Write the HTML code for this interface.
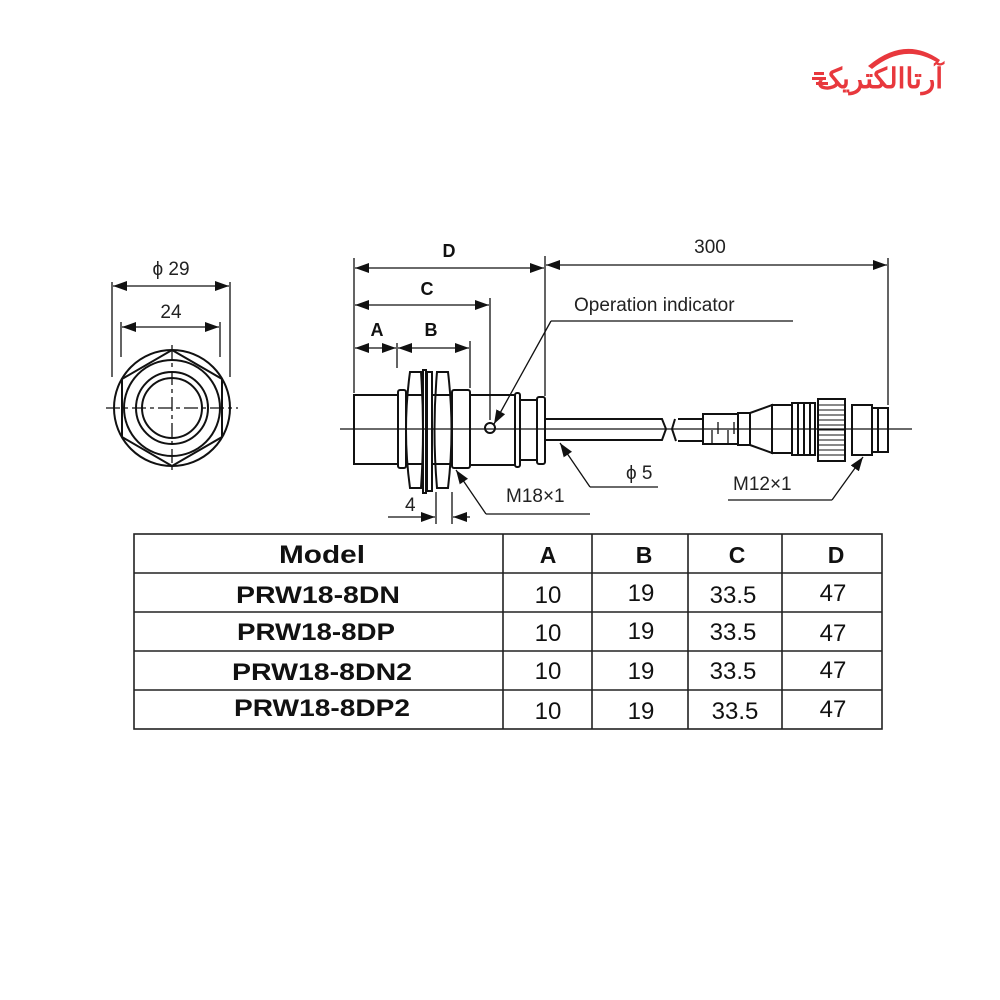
<!DOCTYPE html>
<html><head><meta charset="utf-8"><style>
html,body{margin:0;padding:0;background:#fff;width:1000px;height:1000px;overflow:hidden}
svg{display:block}
</style></head><body>
<svg width="1000" height="1000" viewBox="0 0 1000 1000" xmlns="http://www.w3.org/2000/svg" font-family="Liberation Sans, sans-serif">
<defs>
<marker id="ab" viewBox="0 0 14 10" refX="14" refY="5" markerWidth="14" markerHeight="10" orient="auto-start-reverse" markerUnits="userSpaceOnUse"><path d="M0,0 L14,5 L0,10 z" fill="#111"/></marker>
</defs>
<!-- logo -->
<g fill="#e8383d">
<path d="M868,66 Q905,35 940,60 L938,63 Q905,42 872,69 z"/>
<text x="880" y="88" font-size="28" font-weight="bold" font-family="Noto Sans CJK SC, sans-serif" text-anchor="middle">آرتاالکتریک</text>
<rect x="812" y="77" width="14" height="3"/><rect x="816" y="82" width="12" height="3"/><rect x="814" y="72" width="10" height="3"/>
</g>

<g stroke="#111" fill="none" stroke-width="2">
<!-- front view -->
<circle cx="172" cy="408" r="58"/>
<polygon points="172,350 222,379 222,437 172,466 122,437 122,379"/>
<circle cx="172" cy="408" r="48"/>
<circle cx="172" cy="408" r="36"/>
<circle cx="172" cy="408" r="30"/>
<line x1="106" y1="408" x2="238" y2="408" stroke-dasharray="14,4,4,4" stroke-width="1.3"/>
<line x1="172" y1="345" x2="172" y2="470" stroke-dasharray="14,4,4,4" stroke-width="1.3"/>
<!-- front dims -->
<line x1="112" y1="282" x2="112" y2="377" stroke-width="1.3"/>
<line x1="230" y1="282" x2="230" y2="377" stroke-width="1.3"/>
<line x1="113" y1="286" x2="229" y2="286" stroke-width="1.3" marker-start="url(#ab)" marker-end="url(#ab)"/>
<line x1="121" y1="322" x2="121" y2="357" stroke-width="1.3"/>
<line x1="220" y1="322" x2="220" y2="357" stroke-width="1.3"/>
<line x1="122" y1="327" x2="219" y2="327" stroke-width="1.3" marker-start="url(#ab)" marker-end="url(#ab)"/>

<!-- side view -->
<rect x="354" y="395" width="44" height="69"/>
<rect x="398" y="390" width="8" height="78" rx="2"/>
<path d="M410,372 L421,372 Q425,430 421,488 L410,488 Q402,430 410,372 z"/>
<line x1="406" y1="395" x2="423" y2="395"/><line x1="406" y1="464" x2="423" y2="464"/>
<rect x="423" y="370" width="3" height="123"/>
<rect x="427" y="372" width="5" height="119"/>
<path d="M437,372 L448,372 Q455,430 448,488 L437,488 Q432,430 437,372 z"/>
<line x1="433" y1="395" x2="452" y2="395"/><line x1="433" y1="464" x2="452" y2="464"/>
<rect x="452" y="390" width="18" height="78" rx="2"/>
<rect x="470" y="395" width="45" height="70"/>
<rect x="515" y="393" width="5" height="74" rx="2"/>
<rect x="520" y="400" width="17" height="60"/>
<rect x="537" y="397" width="8" height="67" rx="2"/>
<circle cx="490" cy="428" r="5"/>
<line x1="490" y1="343" x2="490" y2="420" stroke-width="1.3"/>
<!-- cable -->
<path d="M545,419 L662,419 L666,429 L662,440 L545,440"/>
<path d="M678,419 L703,419 M678,441 L703,441 M675,419 L672,429 L676,441"/>
<!-- connector -->
<rect x="703" y="414" width="35" height="30"/>
<path d="M712,430 v14 M718,422 v12 M728,430 v14 M734,422 v12" stroke-width="1.3"/>
<rect x="738" y="413" width="12" height="32"/>
<path d="M750,413 L772,405 L772,453 L750,445"/>
<rect x="772" y="405" width="20" height="48"/>
<path d="M792,403 h23 v52 h-23 z M798,403 v52 M804,403 v52 M810,403 v52"/>
<rect x="818" y="399" width="27" height="62"/>
<g stroke-width="0.9"><path d="M818,405h27M818,410h27M818,415h27M818,420h27M818,425h27M818,430h27M818,435h27M818,440h27M818,445h27M818,450h27M818,455h27"/></g>
<rect x="852" y="405" width="20" height="50"/>
<rect x="872" y="408" width="16" height="44"/>
<line x1="878" y1="408" x2="878" y2="452"/>
<line x1="340" y1="429" x2="912" y2="429" stroke-width="1.3"/>

<!-- side dims -->
<g stroke-width="1.3">
<line x1="354" y1="258" x2="354" y2="393"/>
<line x1="545" y1="256" x2="545" y2="396"/>
<line x1="888" y1="258" x2="888" y2="405"/>
<line x1="355" y1="268" x2="544" y2="268" marker-start="url(#ab)" marker-end="url(#ab)"/>
<line x1="546" y1="265" x2="887" y2="265" marker-start="url(#ab)" marker-end="url(#ab)"/>
<line x1="490" y1="298" x2="490" y2="343"/>
<line x1="355" y1="305" x2="489" y2="305" marker-start="url(#ab)" marker-end="url(#ab)"/>
<line x1="397" y1="343" x2="397" y2="368"/>
<line x1="470" y1="341" x2="470" y2="388"/>
<line x1="355" y1="348" x2="396" y2="348" marker-start="url(#ab)" marker-end="url(#ab)"/>
<line x1="398" y1="348" x2="469" y2="348" marker-start="url(#ab)" marker-end="url(#ab)"/>
<line x1="793" y1="321" x2="551" y2="321"/>
<line x1="551" y1="321" x2="494" y2="424" marker-end="url(#ab)"/>
<line x1="658" y1="487" x2="590" y2="487"/>
<line x1="590" y1="487" x2="560" y2="443" marker-end="url(#ab)"/>
<line x1="590" y1="514" x2="486" y2="514"/>
<line x1="486" y1="514" x2="456" y2="470" marker-end="url(#ab)"/>
<line x1="728" y1="500" x2="832" y2="500"/>
<line x1="832" y1="500" x2="863" y2="457" marker-end="url(#ab)"/>
<line x1="436" y1="492" x2="436" y2="524"/>
<line x1="452" y1="492" x2="452" y2="524"/>
<line x1="388" y1="517" x2="435" y2="517" marker-end="url(#ab)"/>
<line x1="470" y1="517" x2="453" y2="517" marker-end="url(#ab)"/>
</g>
</g>

<g fill="#222" font-size="19">
<text x="171" y="275" text-anchor="middle">ϕ 29</text>
<text x="171" y="318" text-anchor="middle">24</text>
<text x="710" y="253" text-anchor="middle">300</text>
<text x="574" y="311">Operation indicator</text>
<text x="626" y="479">ϕ 5</text>
<text x="506" y="502">M18×1</text>
<text x="733" y="490">M12×1</text>
<text x="405" y="511">4</text>
</g>
<g fill="#111" font-size="18" font-weight="bold" text-anchor="middle">
<text x="449" y="257">D</text>
<text x="427" y="295">C</text>
<text x="377" y="336">A</text>
<text x="431" y="336">B</text>
</g>

<!-- table -->
<g stroke="#222" stroke-width="1.6" fill="none">
<rect x="134" y="534" width="748" height="195"/>
<line x1="134" y1="573" x2="882" y2="573"/>
<line x1="134" y1="612" x2="882" y2="612"/>
<line x1="134" y1="651" x2="882" y2="651"/>
<line x1="134" y1="690" x2="882" y2="690"/>
<line x1="503" y1="534" x2="503" y2="729"/>
<line x1="592" y1="534" x2="592" y2="729"/>
<line x1="688" y1="534" x2="688" y2="729"/>
<line x1="782" y1="534" x2="782" y2="729"/>
</g>
<g fill="#111" font-size="24" text-anchor="middle">
<g font-weight="bold">
<text x="322" y="563" font-size="25" textLength="86" lengthAdjust="spacingAndGlyphs">Model</text>
<text x="548" y="563" font-size="23">A</text>
<text x="644" y="563" font-size="23">B</text>
<text x="737" y="563" font-size="23">C</text>
<text x="836" y="563" font-size="23">D</text>
<text x="318" y="603" textLength="164" lengthAdjust="spacingAndGlyphs">PRW18-8DN</text>
<text x="316" y="640" textLength="158" lengthAdjust="spacingAndGlyphs">PRW18-8DP</text>
<text x="322" y="680" textLength="180" lengthAdjust="spacingAndGlyphs">PRW18-8DN2</text>
<text x="322" y="716" textLength="176" lengthAdjust="spacingAndGlyphs">PRW18-8DP2</text>
</g>
<text x="548" y="603">10</text><text x="641" y="601">19</text><text x="733" y="603">33.5</text><text x="833" y="601">47</text>
<text x="548" y="641">10</text><text x="641" y="639">19</text><text x="733" y="640">33.5</text><text x="833" y="641">47</text>
<text x="548" y="679">10</text><text x="641" y="679">19</text><text x="733" y="679">33.5</text><text x="833" y="678">47</text>
<text x="548" y="719">10</text><text x="641" y="719">19</text><text x="735" y="719">33.5</text><text x="833" y="717">47</text>
</g>
</svg>
</body></html>
